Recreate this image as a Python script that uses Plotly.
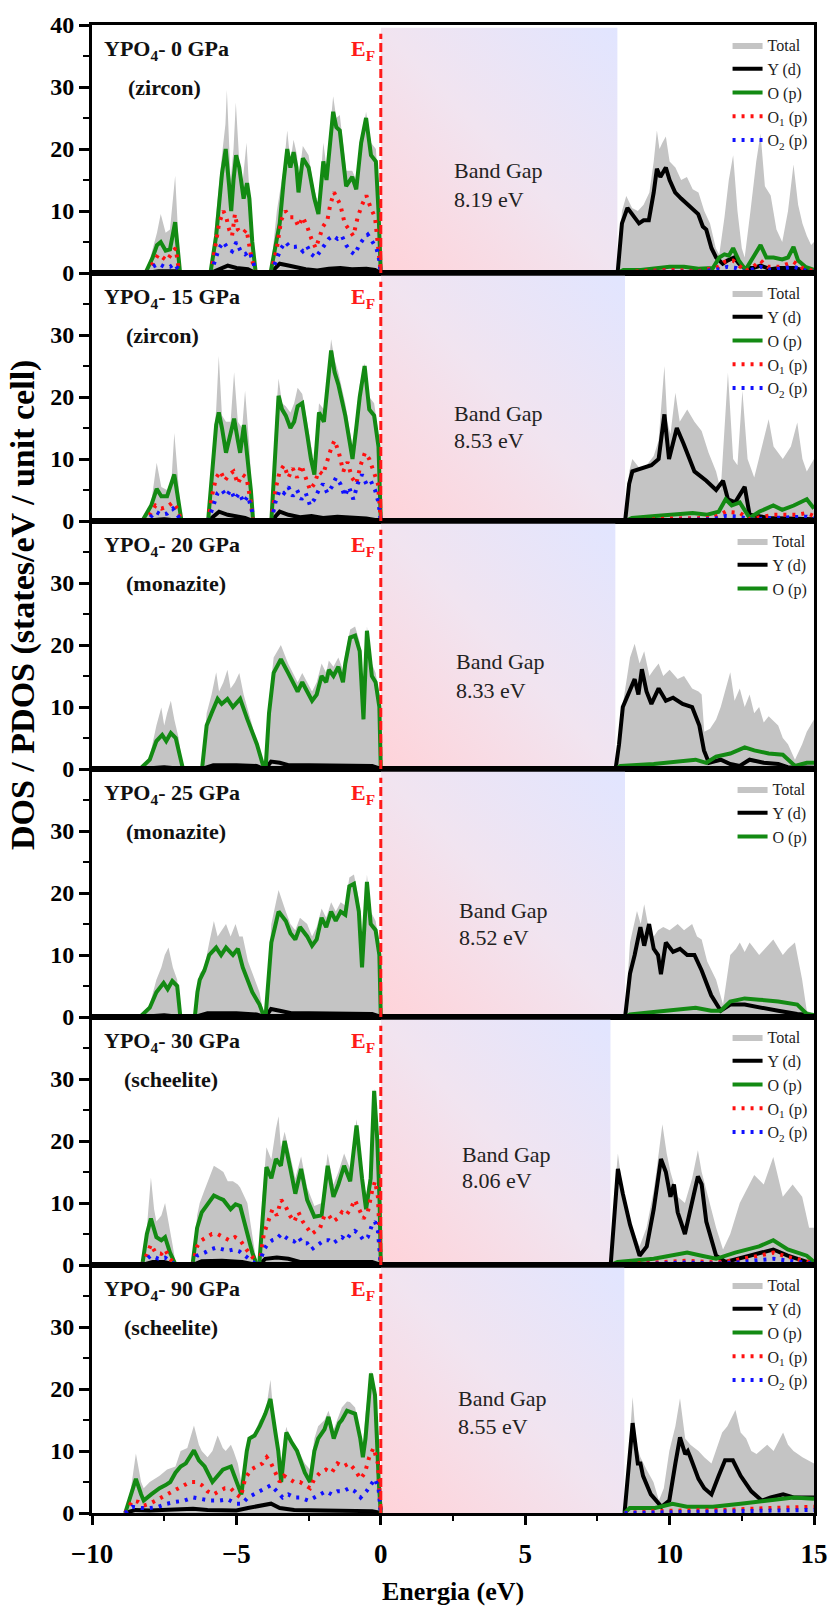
import base64
import plotly.graph_objects as go
from plotly.subplots import make_subplots

# ---------------- data ----------------
PRESSURES = ["0", "15", "20", "25", "30", "90"]
PHASES = ["zircon", "zircon", "monazite", "monazite", "scheelite", "scheelite"]
GAPS = ["8.19", "8.53", "8.33", "8.52", "8.06", "8.55"]
CB_EDGE = [8.2, 8.46, 8.13, 8.46, 7.96, 8.44]
X_TICKS = [-10, -5, 0, 5, 10, 15]
Y_TICKS = [0, 10, 20, 30, 40]

# Panel 1: 0 GPa (zircon)
TOT_1 = [(-8.15,0),(-7.95,3),(-7.75,6.5),(-7.62,9.5),(-7.45,6.5),(-7.3,7),(-7.12,15.7),(-7.0,6),(-6.95,0),
         (-5.9,0),(-5.7,10),(-5.5,19),(-5.38,24),(-5.33,29.5),(-5.2,15),(-5.1,20),(-5.02,27.5),(-4.9,18),(-4.8,14),(-4.65,21),(-4.55,13),(-4.42,6),(-4.32,0),
         (-3.82,0),(-3.6,10),(-3.36,17),(-3.24,23),(-3.13,18),(-3.02,21.5),(-2.9,19),(-2.85,15),(-2.7,20.5),(-2.5,19),(-2.33,14),(-2.16,11),(-1.99,21),(-1.88,17),(-1.65,28.5),(-1.54,25),(-1.42,25.5),(-1.2,16.5),(-0.99,16.5),(-0.85,15),(-0.68,21),(-0.51,26),(-0.34,21),(-0.17,20),(-0.06,12),(0.0,0),
         (8.2,0),(8.35,10),(8.5,12.4),(8.7,10.5),(8.9,10),(9.1,11),(9.3,13),(9.45,18),(9.56,23),(9.65,20),(9.75,21),(9.87,22),(10.0,18),(10.2,17),(10.4,15),(10.6,15.5),(10.8,13.5),(11.0,13),(11.2,10),(11.4,8),(11.6,4),(11.72,3),(11.9,9),(12.05,15),(12.2,19),(12.35,10),(12.5,4),(12.6,2.5),(12.8,10),(13.0,18),(13.15,22.5),(13.3,14),(13.5,12.5),(13.7,7),(13.9,5),(14.1,10),(14.29,17.5),(14.45,11),(14.6,8),(14.75,6),(14.9,4.5),(15.0,5)]
YD_1 = [(-8.15,0),(-7.7,0.3),(-7.0,0.3),(-6.95,0),(-5.9,0),(-5.5,0.8),(-5.3,1.2),(-5.0,0.8),(-4.6,0.6),(-4.33,0),(-3.82,0),(-3.5,1.5),(-3.2,1.2),(-3.0,1.0),(-2.6,0.6),(-2.2,0.4),(-1.8,0.7),(-1.4,0.8),(-1.0,0.6),(-0.5,0.7),(-0.2,0.5),(0.0,0),
        (8.2,0),(8.35,8),(8.54,10.5),(8.71,9.5),(8.94,8),(9.1,8.5),(9.28,8.5),(9.45,13),(9.56,16.8),(9.68,15.5),(9.87,17),(10.0,15),(10.19,13),(10.4,12),(10.64,11),(10.85,10),(10.99,9.5),(11.15,7.5),(11.27,7),(11.45,4),(11.61,2.5),(11.84,1.5),(12.0,2),(12.24,2.5),(12.4,1.5),(12.58,0.8),(12.9,0.8),(13.15,1.2),(13.5,0.6),(13.8,0.8),(14.29,0.8),(14.6,0.5),(15.0,0.3)]
OP_1 = [(-8.15,0),(-7.9,2.5),(-7.75,4.5),(-7.62,5),(-7.45,3.6),(-7.3,3.8),(-7.12,8.2),(-7.0,3),(-6.95,0),
        (-5.9,0),(-5.7,6),(-5.5,16),(-5.37,20),(-5.25,14),(-5.18,10),(-5.1,15),(-5.01,19),(-4.9,17),(-4.75,12),(-4.63,14.5),(-4.55,12),(-4.45,5),(-4.33,0),
        (-3.82,0),(-3.5,8),(-3.36,15),(-3.24,20),(-3.13,17),(-3.02,19.5),(-2.92,17),(-2.85,13),(-2.7,18.5),(-2.5,17),(-2.3,12),(-2.16,9.5),(-1.99,18),(-1.88,15),(-1.65,26),(-1.54,23.5),(-1.42,23),(-1.2,14),(-0.99,15.5),(-0.85,13.5),(-0.68,21),(-0.51,25),(-0.34,19),(-0.17,18),(-0.08,10),(0.0,0),
        (8.2,0),(8.4,0.5),(9.0,0.5),(9.5,0.8),(10.0,1),(10.5,1),(11.0,0.7),(11.5,0.8),(11.72,2.5),(11.9,3),(12.05,2.8),(12.2,4),(12.4,2),(12.63,0.5),(12.9,2.5),(13.15,4.5),(13.35,2.5),(13.6,2.5),(13.9,2.2),(14.1,2.5),(14.29,4.2),(14.45,2),(14.7,1),(15.0,0.5)]
O1_1 = [(-8.1,0),(-7.9,1.5),(-7.7,3),(-7.55,2.5),(-7.4,2),(-7.2,3.5),(-7.1,4),(-6.98,0),
        (-5.88,0),(-5.75,4),(-5.6,8),(-5.45,10),(-5.35,9),(-5.25,7),(-5.15,6),(-5.05,9.5),(-4.95,7),(-4.85,6.5),(-4.75,6.5),(-4.65,7),(-4.5,3),(-4.35,0),
        (-3.8,0),(-3.6,4),(-3.45,8.5),(-3.3,10),(-3.15,9),(-3.0,9),(-2.85,7.5),(-2.7,9),(-2.55,7.5),(-2.4,5.5),(-2.25,4),(-2.1,6),(-2.0,7.5),(-1.85,8.5),(-1.75,11),(-1.62,13),(-1.5,12),(-1.4,11),(-1.25,8),(-1.1,7),(-0.95,6),(-0.8,9),(-0.65,11),(-0.5,12.5),(-0.35,10.5),(-0.2,9),(-0.1,5),(0.0,0),
        (8.2,0),(9.0,0.3),(10.0,0.5),(11.0,0.3),(11.7,1),(11.9,1.8),(12.2,2),(12.45,1),(12.63,0.3),(12.9,1),(13.15,2),(13.4,1),(13.8,1),(14.29,1.8),(14.6,0.8),(15.0,0.3)]
O2_1 = [(-8.1,0),(-7.9,1),(-7.7,1.5),(-7.5,1),(-7.3,1),(-7.15,1.5),(-7.0,0.5),(-6.95,0),
        (-5.88,0),(-5.75,2),(-5.6,4),(-5.45,5),(-5.3,4),(-5.15,3.5),(-5.0,5),(-4.85,3.5),(-4.7,3),(-4.55,3.5),(-4.4,1.5),(-4.33,0),
        (-3.8,0),(-3.6,2.5),(-3.45,4),(-3.3,5),(-3.15,4.2),(-3.0,4.2),(-2.85,4.3),(-2.7,3.5),(-2.55,4.3),(-2.4,3),(-2.25,2.5),(-2.1,3.5),(-1.95,4.5),(-1.8,5.5),(-1.65,6),(-1.5,5.5),(-1.35,6),(-1.2,4.5),(-1.05,3.5),(-0.9,3),(-0.75,4.5),(-0.6,5.5),(-0.45,6.2),(-0.3,5),(-0.15,4),(-0.05,2),(0.0,0),
        (8.2,0),(9.5,0.2),(11.0,0.2),(11.7,0.6),(12.0,1),(12.3,0.8),(12.6,0.2),(13.15,1),(13.5,0.5),(14.29,1),(14.7,0.4),(15.0,0.2)]

# Panel 2: 15 GPa (zircon)
TOT_2 = [(-8.26,0),(-7.95,3),(-7.76,9.4),(-7.6,5.5),(-7.4,5),(-7.25,6.5),(-7.15,14.2),(-7.0,5),(-6.9,0),
         (-5.98,0),(-5.85,10),(-5.7,18),(-5.61,26.6),(-5.5,17),(-5.36,16),(-5.2,16),(-5.08,24),(-4.95,16),(-4.8,15),(-4.7,21),(-4.55,12),(-4.42,0),
         (-3.79,0),(-3.65,16),(-3.54,23),(-3.42,19),(-3.29,18.5),(-3.13,17.5),(-3.0,19),(-2.88,21.5),(-2.72,20.5),(-2.55,16),(-2.42,12),(-2.3,9),(-2.14,19),(-1.97,18),(-1.85,23),(-1.72,29.3),(-1.6,26),(-1.47,24),(-1.23,19),(-1.1,15),(-0.98,12),(-0.85,17),(-0.73,22),(-0.56,25.5),(-0.4,20),(-0.23,19),(-0.08,14),(0.0,0),
         (8.46,0),(8.6,8),(8.71,10),(8.96,8.5),(9.2,9),(9.45,10.5),(9.62,13),(9.82,25),(9.92,16),(10.03,14),(10.2,20.7),(10.35,16),(10.61,18),(10.86,16),(11.11,14.5),(11.35,11),(11.61,8),(11.77,5),(12.02,23.9),(12.2,10),(12.35,9),(12.52,21),(12.7,10),(12.93,7),(13.2,12),(13.43,16.4),(13.6,12),(13.92,10),(14.2,12),(14.42,15.9),(14.6,10),(14.75,8),(15.0,10)]
YD_2 = [(-8.26,0),(-7.5,0.3),(-6.9,0),(-5.98,0),(-5.6,1.5),(-5.3,1),(-5.0,0.8),(-4.7,0.5),(-4.42,0),(-3.79,0),(-3.5,1.5),(-3.2,1),(-2.8,0.6),(-2.4,0.8),(-2.0,0.5),(-1.5,0.7),(-1.0,0.5),(-0.5,0.4),(0.0,0),
        (8.46,0),(8.6,6),(8.71,8),(9.04,8.5),(9.37,9),(9.62,10),(9.82,17.2),(9.98,10),(10.25,15),(10.48,12.5),(10.86,8),(11.27,6.5),(11.61,5),(11.85,6.5),(12.02,3.5),(12.27,3),(12.6,5.5),(12.77,1),(13.43,0.5),(15.0,0.3)]
OP_2 = [(-8.26,0),(-7.95,2.5),(-7.76,5.2),(-7.6,4),(-7.4,4),(-7.15,7.5),(-7.0,3),(-6.9,0),
        (-5.98,0),(-5.85,8),(-5.7,15.5),(-5.61,17.5),(-5.5,15),(-5.36,11),(-5.2,14),(-5.08,16.5),(-4.95,13),(-4.87,11),(-4.74,15.5),(-4.6,10),(-4.5,5),(-4.42,0),
        (-3.79,0),(-3.65,12),(-3.54,20.2),(-3.42,18),(-3.29,17),(-3.13,15),(-3.0,16),(-2.88,18.5),(-2.72,19),(-2.55,14),(-2.42,10),(-2.3,7.5),(-2.14,17.5),(-1.97,16),(-1.85,21),(-1.72,27.5),(-1.6,24),(-1.47,22),(-1.23,17),(-1.1,13),(-0.98,10),(-0.85,15),(-0.73,20),(-0.56,25),(-0.4,18),(-0.23,17),(-0.08,12),(0.0,0),
        (8.46,0),(8.7,0.5),(9.5,0.8),(10.2,1),(10.8,1.3),(11.3,1),(11.7,1.5),(11.94,3.5),(12.15,2.5),(12.43,3),(12.77,0.5),(13.1,1.5),(13.59,2.5),(13.9,1.8),(14.3,2.5),(14.75,3.5),(15.0,2)]
O1_2 = [(-8.26,0),(-8.0,1),(-7.8,2.5),(-7.6,2),(-7.4,2.3),(-7.2,3),(-7.05,2),(-6.9,0),
        (-5.98,0),(-5.85,4),(-5.7,7),(-5.55,8),(-5.4,6.5),(-5.25,7.5),(-5.1,8),(-4.95,6),(-4.8,7.5),(-4.65,7),(-4.5,3),(-4.42,0),
        (-3.79,0),(-3.65,5),(-3.5,8),(-3.35,9),(-3.2,7),(-3.05,8.5),(-2.9,7),(-2.75,9),(-2.6,7),(-2.45,5),(-2.3,6),(-2.15,8),(-2.0,7.5),(-1.85,10),(-1.7,12),(-1.6,13),(-1.45,11),(-1.3,8),(-1.15,9.5),(-1.0,7),(-0.85,6),(-0.7,9),(-0.55,11),(-0.4,10),(-0.25,8),(-0.1,6),(0.0,0),
        (8.46,0),(10.0,0.4),(11.5,0.5),(11.94,1.5),(12.43,1.3),(12.77,0.3),(13.6,1),(14.4,1),(14.75,1.3),(15.0,0.8)]
O2_2 = [(-8.26,0),(-8.0,0.5),(-7.8,1.5),(-7.6,1),(-7.4,1.2),(-7.2,2),(-7.05,1),(-6.9,0),
        (-5.98,0),(-5.8,2.5),(-5.65,4.5),(-5.5,5),(-5.35,4),(-5.2,5),(-5.05,3.5),(-4.9,4.5),(-4.75,3),(-4.6,4),(-4.45,1.5),(-4.42,0),
        (-3.79,0),(-3.65,3),(-3.5,5),(-3.35,4.5),(-3.2,5.5),(-3.05,4),(-2.9,5),(-2.75,3.5),(-2.6,4.5),(-2.45,2.5),(-2.3,3.5),(-2.15,5),(-2.0,6),(-1.85,4.5),(-1.7,5.5),(-1.55,7),(-1.4,6),(-1.25,4),(-1.1,5.5),(-0.95,3.5),(-0.8,6),(-0.65,7.5),(-0.5,6),(-0.35,6.5),(-0.2,5),(-0.08,3),(0.0,0),
        (8.46,0),(10.0,0.2),(11.5,0.3),(11.94,0.8),(12.43,0.7),(12.77,0.2),(13.6,0.5),(14.75,0.7),(15.0,0.4)]

# Panel 3: 20 GPa (monazite)
TOT_3 = [(-8.34,0),(-8.0,2),(-7.77,7),(-7.6,9.9),(-7.5,7),(-7.4,9),(-7.27,11),(-7.15,8),(-7.0,5),(-6.85,0),
         (-6.19,0),(-6.03,9),(-5.86,12),(-5.7,15.6),(-5.6,12.5),(-5.45,14),(-5.31,16),(-5.2,13),(-5.05,14),(-4.9,15.5),(-4.75,12),(-4.62,10),(-4.45,7),(-4.29,4),(-4.04,0),
         (-3.99,0),(-3.87,11),(-3.71,18),(-3.46,20),(-3.21,17),(-3.05,15.5),(-2.88,14),(-2.72,15.5),(-2.55,14),(-2.38,12.5),(-2.22,14),(-2.05,17),(-1.89,15.5),(-1.8,17.5),(-1.64,16.5),(-1.47,18),(-1.31,16),(-1.23,18.5),(-1.06,22.5),(-0.89,23),(-0.73,20.5),(-0.6,12),(-0.48,23),(-0.31,17),(-0.18,15.5),(-0.05,12),(0.0,0),
         (8.13,0),(8.3,8),(8.46,13.2),(8.63,18),(8.79,20.2),(8.96,17),(9.12,19),(9.3,15),(9.45,16),(9.62,17),(9.78,15),(10.0,16),(10.28,14.5),(10.5,15),(10.78,13),(11.0,12.5),(11.11,12),(11.2,6),(11.4,6.5),(11.61,8),(11.77,10),(12.1,15.6),(12.25,11),(12.43,13),(12.6,10),(12.77,12),(12.93,9),(13.1,10),(13.26,7.5),(13.43,8.5),(13.76,7),(13.92,5),(14.1,4),(14.34,1.5),(14.59,4),(14.75,6),(15.0,8)]
YD_3 = [(-8.34,0),(-7.5,0.3),(-6.85,0),(-6.19,0),(-5.8,0.6),(-5.0,0.6),(-4.3,0.5),(-4.04,0),(-3.99,0),(-3.8,1.2),(-3.5,1),(-3.2,0.6),(-2.5,0.6),(-1.8,0.6),(-1.0,0.6),(-0.3,0.5),(0.0,0),
        (8.13,0),(8.25,4),(8.38,10),(8.63,13),(8.79,14.5),(8.92,12),(9.04,16.1),(9.2,12.5),(9.37,10.5),(9.62,13),(9.87,11),(10.12,11.5),(10.45,10.5),(10.78,10),(11.03,7),(11.19,3),(11.36,1),(11.77,1.5),(12.1,0.8),(12.43,0.5),(12.77,1.5),(13.26,1),(13.76,0.8),(14.09,0.3),(15.0,0.2)]
OP_3 = [(-8.34,0),(-8.0,1.5),(-7.77,4.5),(-7.57,5.5),(-7.43,4.5),(-7.27,5.8),(-7.1,5),(-6.95,2),(-6.85,0),
        (-6.19,0),(-6.1,5),(-6.03,7),(-5.86,9),(-5.65,11.3),(-5.51,10.5),(-5.31,11.3),(-5.12,10),(-4.87,11.3),(-4.62,8),(-4.45,6),(-4.29,4),(-4.04,0),
        (-3.99,0),(-3.87,9),(-3.71,15.5),(-3.46,17.7),(-3.21,15.5),(-3.05,14),(-2.88,12.5),(-2.72,14),(-2.55,12.5),(-2.38,11),(-2.22,12),(-2.05,15),(-1.89,14),(-1.8,16),(-1.64,15),(-1.47,16.5),(-1.31,14),(-1.23,17),(-1.06,21.2),(-0.89,21.5),(-0.73,19),(-0.6,8),(-0.48,22.3),(-0.31,15),(-0.18,14),(-0.05,10),(0.0,0),
        (8.13,0),(8.3,0.5),(9.45,0.8),(10.28,1.2),(10.9,1.5),(11.27,1),(11.61,2),(12.1,2.5),(12.6,3.5),(12.93,3),(13.43,2.5),(13.92,2.3),(14.34,0.5),(14.75,1),(15.0,1)]

# Panel 4: 25 GPa (monazite)
TOT_4 = [(-8.34,0),(-8.0,2),(-7.77,6),(-7.6,8),(-7.48,10),(-7.35,11.2),(-7.2,8),(-7.05,6),(-6.94,0),
         (-6.44,0),(-6.27,7),(-6.11,8),(-5.94,12),(-5.78,15.5),(-5.65,13),(-5.5,14),(-5.36,15),(-5.2,13),(-5.03,15),(-4.9,13),(-4.78,13),(-4.6,9),(-4.45,7),(-4.2,4),(-4.04,0),
         (-3.99,0),(-3.79,15),(-3.54,20.5),(-3.29,17),(-3.13,15),(-2.96,14),(-2.8,16),(-2.55,15),(-2.38,13),(-2.22,14.5),(-2.05,17.5),(-1.89,16),(-1.72,18.5),(-1.56,17),(-1.39,18.5),(-1.23,18),(-1.09,22.5),(-0.93,23),(-0.76,19),(-0.65,10),(-0.48,23),(-0.35,17),(-0.18,15.5),(-0.05,12),(0.0,0),
         (8.46,0),(8.63,12),(8.87,17.1),(9.0,15),(9.12,18.2),(9.29,14),(9.45,13),(9.6,14),(9.78,14.5),(10.0,14),(10.28,15),(10.5,14),(10.78,15),(10.95,13),(11.11,12.5),(11.3,9),(11.61,6),(11.85,2),(12.1,10),(12.3,11),(12.43,12),(12.6,10.5),(12.77,12),(13.1,10),(13.3,11),(13.59,12.5),(13.92,10),(14.1,11),(14.34,12),(14.59,6),(14.75,1),(15.0,0.5)]
YD_4 = [(-8.34,0),(-7.5,0.3),(-6.94,0),(-6.44,0),(-6.0,0.6),(-5.0,0.6),(-4.3,0.4),(-4.04,0),(-3.99,0),(-3.8,1.3),(-3.5,1),(-3.1,0.6),(-2.5,0.6),(-1.8,0.6),(-1.0,0.6),(-0.3,0.5),(0.0,0),
        (8.46,0),(8.63,7),(8.79,10),(8.99,14.5),(9.12,11.5),(9.29,15),(9.45,11),(9.6,10),(9.7,6.9),(9.87,12),(10.12,10.5),(10.36,11),(10.61,10),(10.86,10),(11.11,7.5),(11.44,3.5),(11.77,1),(12.1,2),(12.6,2),(13.1,1.5),(13.76,1),(14.42,0.5),(15.0,0.3)]
OP_4 = [(-8.34,0),(-8.0,1.5),(-7.77,4),(-7.52,5.5),(-7.38,4.5),(-7.22,5.8),(-7.05,5),(-6.98,2),(-6.94,0),
        (-6.44,0),(-6.35,4),(-6.27,6),(-6.11,7.5),(-5.94,10),(-5.7,11.2),(-5.53,10),(-5.36,11.2),(-5.12,10),(-4.95,11),(-4.78,8),(-4.45,4),(-4.2,2),(-4.04,0),
        (-3.99,0),(-3.79,12),(-3.54,17),(-3.29,15.5),(-3.13,13.5),(-2.96,12.5),(-2.8,14.5),(-2.55,13),(-2.38,11.5),(-2.22,12.5),(-2.05,16),(-1.89,14.5),(-1.72,17),(-1.56,15.5),(-1.39,17),(-1.23,16.5),(-1.09,21.1),(-0.93,21.5),(-0.76,17),(-0.65,8),(-0.48,21.8),(-0.35,15),(-0.18,14),(-0.05,10),(0.0,0),
        (8.46,0),(8.63,0.4),(9.45,0.8),(10.3,1.2),(10.9,1.5),(11.44,1),(11.77,1),(12.1,2.5),(12.6,3),(13.1,2.8),(13.76,2.5),(14.42,2),(14.75,0.5),(15.0,0.3)]

# Panel 5: 30 GPa (scheelite)
TOT_5 = [(-8.26,0),(-8.1,6),(-7.96,14.1),(-7.85,9),(-7.77,7),(-7.6,8),(-7.47,10),(-7.35,7),(-7.2,3),(-7.1,0),
         (-6.52,0),(-6.36,8),(-6.27,10),(-6.11,12),(-6.03,13),(-5.9,14.5),(-5.78,16),(-5.6,15.5),(-5.45,15),(-5.3,13.5),(-5.12,13.5),(-4.95,13),(-4.87,12.5),(-4.62,10),(-4.45,5),(-4.29,0),
         (-4.21,0),(-4.1,11),(-3.96,19),(-3.79,17),(-3.63,22),(-3.54,24),(-3.46,19),(-3.33,21.5),(-3.13,17.5),(-2.96,14),(-2.76,17.5),(-2.55,12.5),(-2.3,9.5),(-2.05,10),(-1.84,18),(-1.64,13),(-1.47,15),(-1.27,18),(-1.06,15.5),(-0.84,23.5),(-0.65,16),(-0.51,11),(-0.35,16),(-0.23,28.5),(-0.12,22),(-0.04,12),(0.0,0),
         (7.96,0),(8.1,12),(8.21,18),(8.38,12),(8.63,7),(8.79,5),(8.96,3),(9.2,6),(9.45,12),(9.54,15),(9.75,22.7),(9.9,18),(10.03,15),(10.28,11),(10.53,10),(10.78,14),(10.98,18.5),(11.11,15),(11.27,12),(11.61,6),(11.85,2.5),(12.1,5),(12.43,10),(12.77,13),(12.93,14.5),(13.26,13),(13.59,17.4),(13.92,11),(14.26,13),(14.59,11),(14.83,6),(15.0,6)]
YD_5 = [(-8.26,0),(-7.9,0.5),(-7.5,0.5),(-7.1,0),(-6.52,0),(-6.2,0.6),(-5.5,0.7),(-4.8,0.5),(-4.29,0),(-4.21,0),(-4.0,1),(-3.6,1.2),(-3.2,1),(-2.8,0.5),(-2.0,0.5),(-1.0,0.5),(-0.3,0.5),(0.0,0),
        (7.96,0),(8.13,12),(8.21,15.5),(8.38,11.5),(8.63,6.5),(8.96,1.5),(9.21,3),(9.45,9),(9.7,17.1),(9.87,15),(10.03,11),(10.15,13),(10.28,8.5),(10.53,5),(10.78,10),(10.98,14.3),(11.11,13),(11.27,7),(11.61,1.5),(11.94,0.5),(12.77,1.5),(13.26,2),(13.59,2.5),(14.09,1.5),(14.75,0.5),(15.0,0.3)]
OP_5 = [(-8.26,0),(-8.1,5),(-7.96,7.5),(-7.85,5.5),(-7.77,4.5),(-7.6,4),(-7.47,4.5),(-7.3,2),(-7.1,0),
        (-6.52,0),(-6.36,6),(-6.2,8.5),(-6.03,9.5),(-5.78,11.2),(-5.6,10.8),(-5.45,10.5),(-5.2,9),(-5.03,9.8),(-4.87,9.5),(-4.62,5),(-4.45,2),(-4.29,0),
        (-4.21,0),(-4.1,8),(-3.96,15.8),(-3.79,14),(-3.63,17.1),(-3.46,16),(-3.33,20),(-3.13,15.5),(-2.96,11.5),(-2.76,15.5),(-2.55,10.5),(-2.3,7.8),(-2.05,8),(-1.84,16),(-1.64,11),(-1.47,13),(-1.27,16),(-1.06,13.5),(-0.84,22.5),(-0.65,14),(-0.51,9),(-0.35,14),(-0.23,28.1),(-0.12,20),(-0.04,10),(0.0,0),
        (7.96,0),(8.2,0.5),(9.45,1),(10.61,2),(11.11,1.5),(11.61,1),(12.27,2),(13.1,3),(13.59,4),(14.09,2.5),(14.75,1.5),(15.0,0.5)]
O1_5 = [(-8.26,0),(-8.1,2),(-7.96,3.3),(-7.8,2),(-7.6,1.8),(-7.47,2.5),(-7.3,1),(-7.1,0),
        (-6.52,0),(-6.36,3),(-6.2,4),(-6.03,4.5),(-5.85,5),(-5.65,5),(-5.45,4.5),(-5.25,4),(-5.05,4.5),(-4.87,4),(-4.65,2.5),(-4.4,1),(-4.29,0),
        (-4.21,0),(-4.05,5),(-3.9,7),(-3.75,9),(-3.6,8),(-3.45,10.5),(-3.3,9.5),(-3.15,8),(-3.0,7),(-2.85,8.5),(-2.7,7),(-2.55,6),(-2.4,5),(-2.25,5.5),(-2.1,6),(-1.95,8),(-1.8,8),(-1.65,7),(-1.5,7.5),(-1.35,8.5),(-1.2,8),(-1.05,9),(-0.9,10.5),(-0.75,9),(-0.6,7.5),(-0.45,8.5),(-0.3,12),(-0.2,13.5),(-0.1,11),(0.0,0),
        (7.96,0),(9.0,0.3),(10.6,0.7),(11.6,0.4),(12.3,0.8),(13.1,1.5),(13.59,2),(14.1,1.3),(14.75,0.6),(15.0,0.3)]
O2_5 = [(-8.26,0),(-8.1,1),(-7.96,1.5),(-7.7,1),(-7.47,1.2),(-7.3,0.6),(-7.1,0),
        (-6.52,0),(-6.36,1.5),(-6.1,2),(-5.9,2.5),(-5.7,2.8),(-5.5,2.5),(-5.3,2.3),(-5.1,2.5),(-4.9,2.2),(-4.7,1.5),(-4.4,0.5),(-4.29,0),
        (-4.21,0),(-4.05,2.5),(-3.9,3.5),(-3.75,4),(-3.6,4.2),(-3.45,5),(-3.3,4.5),(-3.15,4),(-3.0,3.8),(-2.85,4.5),(-2.7,3.5),(-2.55,3.5),(-2.4,2.5),(-2.25,3),(-2.1,3.5),(-1.95,4),(-1.8,4),(-1.65,3.5),(-1.5,4),(-1.35,4.5),(-1.2,4),(-1.05,5),(-0.9,5.5),(-0.75,5),(-0.6,4),(-0.45,4.5),(-0.3,6.5),(-0.2,7),(-0.1,5.5),(0.0,0),
        (7.96,0),(9.0,0.2),(10.6,0.4),(11.6,0.2),(12.3,0.4),(13.1,0.8),(13.59,1),(14.1,0.7),(14.75,0.3),(15.0,0.2)]

# Panel 6: 90 GPa (scheelite)
TOT_6 = [(-8.85,0),(-8.65,4),(-8.48,9.6),(-8.3,5),(-8.21,4),(-8.0,5),(-7.66,6),(-7.4,7),(-7.11,7.5),(-6.93,10),(-6.7,10.5),(-6.47,14.1),(-6.3,11),(-6.2,10),(-6.0,9),(-5.83,10),(-5.65,12.5),(-5.47,10.5),(-5.37,10),(-5.19,11),(-5.1,10),(-4.95,8),(-4.83,5),(-4.75,4),(-4.64,10),(-4.55,12),(-4.37,13),(-4.19,15),(-4.0,16),(-3.82,21.5),(-3.7,15),(-3.55,11),(-3.45,8),(-3.35,12),(-3.27,13.9),(-3.1,11),(-2.9,10.5),(-2.63,8),(-2.45,7),(-2.3,12),(-2.17,14),(-1.95,15),(-1.81,16.5),(-1.63,13.5),(-1.44,16),(-1.35,17),(-1.17,18),(-1.07,17.9),(-0.89,17),(-0.71,13),(-0.62,11),(-0.53,16),(-0.34,23),(-0.2,20),(-0.07,12),(0.0,0),
         (8.44,0),(8.62,12),(8.72,18.7),(8.85,11),(8.99,9),(9.2,7),(9.44,5),(9.63,2),(9.8,4),(9.99,10),(10.2,14),(10.36,18.5),(10.54,12),(10.72,11),(11.0,10),(11.2,9),(11.45,8),(11.82,13),(12.0,14),(12.28,16.6),(12.46,13),(12.65,12),(12.83,10),(13.01,9.5),(13.38,11),(13.6,10),(13.93,13),(14.1,11),(14.29,10),(14.6,9),(15.0,8)]
YD_6 = [(-8.85,0),(-8.5,0.5),(-8.0,0.4),(-7.0,0.5),(-6.5,0.7),(-6.0,0.5),(-5.0,0.4),(-4.6,0.8),(-4.2,1.2),(-3.8,1.5),(-3.5,0.8),(-3.0,0.5),(-2.0,0.4),(-1.0,0.4),(-0.3,0.3),(0.0,0),
        (8.44,0),(8.62,10),(8.72,14.5),(8.9,8),(8.99,8),(9.08,6),(9.35,3),(9.72,1),(9.99,2),(10.2,8),(10.36,12.2),(10.54,9.5),(10.63,10),(10.72,9),(11.0,5.5),(11.2,4),(11.45,3),(11.7,6),(11.92,8.5),(12.19,8.5),(12.46,6),(12.83,3.5),(13.19,2),(13.5,2.5),(13.93,3),(14.29,2.5),(15.0,2.5)]
OP_6 = [(-8.85,0),(-8.65,3),(-8.48,5.5),(-8.3,3),(-8.21,2),(-7.95,3),(-7.66,4),(-7.45,4.5),(-7.29,5),(-7.11,6.5),(-6.93,7.5),(-6.75,8),(-6.47,10.1),(-6.3,8.5),(-6.1,7.5),(-5.83,5),(-5.65,6),(-5.47,7),(-5.19,7.5),(-5.0,5),(-4.83,3),(-4.64,10),(-4.55,12),(-4.37,12.5),(-4.19,14),(-4.0,16),(-3.82,18.4),(-3.65,13),(-3.55,10),(-3.45,5),(-3.27,13),(-3.1,11.5),(-2.9,10),(-2.63,6.5),(-2.45,5),(-2.3,10),(-2.17,12),(-1.95,13.5),(-1.81,15.5),(-1.63,12),(-1.44,14.5),(-1.35,15),(-1.17,16.5),(-0.89,16),(-0.71,12),(-0.62,9),(-0.53,12),(-0.34,22.5),(-0.2,19),(-0.07,5),(0.0,0),
        (8.44,0),(8.62,0.8),(9.5,0.8),(10.1,1.5),(10.6,1),(11.5,1),(12.46,1.5),(13.38,2),(14.29,2.5),(15.0,2.3)]
O1_6 = [(-8.85,0),(-8.6,2),(-8.4,1.8),(-8.2,1.2),(-8.0,1.5),(-7.8,2),(-7.6,2.5),(-7.4,3),(-7.2,3.5),(-7.0,4),(-6.8,4.5),(-6.6,5),(-6.4,5),(-6.2,4.5),(-6.0,3.5),(-5.8,3),(-5.6,3.5),(-5.4,4),(-5.2,4),(-5.0,3),(-4.85,2.5),(-4.7,5.5),(-4.5,7),(-4.3,7.5),(-4.1,8),(-3.95,9),(-3.8,8),(-3.65,6.5),(-3.5,5),(-3.35,6),(-3.2,5.5),(-3.0,5),(-2.8,5),(-2.6,4.5),(-2.45,4),(-2.3,5.5),(-2.1,6.5),(-1.9,7),(-1.7,6.5),(-1.5,8),(-1.3,7.5),(-1.1,8),(-0.9,7),(-0.7,5.5),(-0.55,6.5),(-0.4,9),(-0.25,10.5),(-0.1,8),(0.0,0),
        (8.44,0),(9.5,0.3),(10.5,0.4),(12.0,0.5),(13.4,0.8),(14.3,1),(15.0,1)]
O2_6 = [(-8.85,0),(-8.6,1),(-8.3,0.8),(-8.0,0.8),(-7.7,1),(-7.4,1.5),(-7.1,1.8),(-6.8,2),(-6.5,2.5),(-6.2,2.2),(-5.9,2),(-5.6,2),(-5.3,2.2),(-5.0,1.5),(-4.8,1.5),(-4.6,2.5),(-4.4,3),(-4.2,3.5),(-4.0,4),(-3.8,4.5),(-3.6,3.5),(-3.4,2.5),(-3.2,3),(-3.0,2.5),(-2.8,2.5),(-2.5,2),(-2.3,2.5),(-2.1,3),(-1.9,3.5),(-1.7,3),(-1.5,3.5),(-1.3,3.5),(-1.1,4),(-0.9,3.5),(-0.7,2.5),(-0.5,3.5),(-0.35,4.5),(-0.2,5.5),(-0.08,4),(0.0,0),
        (8.44,0),(10.5,0.2),(12.0,0.3),(13.4,0.4),(14.3,0.5),(15.0,0.5)]

PANEL_DATA = [
    (TOT_1, YD_1, OP_1, O1_1, O2_1),
    (TOT_2, YD_2, OP_2, O1_2, O2_2),
    (TOT_3, YD_3, OP_3, None, None),
    (TOT_4, YD_4, OP_4, None, None),
    (TOT_5, YD_5, OP_5, O1_5, O2_5),
    (TOT_6, YD_6, OP_6, O1_6, O2_6),
]

# ---------------- layout / style ----------------
SERIF = "Liberation Serif"
NP = 6
W, H = 840, 1607
ML, MR, MT, MB = 92, 15, 25, 94
PHASE_X = [-7.5, -7.55, -7.1, -7.1, -7.25, -7.25]
BG_POS = [(2.45, 16.6, 11.9), (2.45, 17.4, 13.0), (2.55, 17.4, 12.7),
          (2.65, 17.1, 12.9), (2.75, 17.9, 13.6), (2.6, 18.4, 14.0)]
LW = 4.0

fig = make_subplots(rows=NP, cols=1, shared_xaxes=True, vertical_spacing=0)

svg = ("<svg xmlns='http://www.w3.org/2000/svg' width='100' height='100' viewBox='0 0 100 100' "
       "preserveAspectRatio='none'><defs><linearGradient id='g' x1='0' y1='1' x2='1' y2='0'>"
       "<stop offset='0' stop-color='#ffd3d9'/><stop offset='0.5' stop-color='#f1e4f0'/>"
       "<stop offset='1' stop-color='#e1e5ff'/></linearGradient></defs>"
       "<rect width='100' height='100' fill='url(#g)'/></svg>")
svg_uri = "data:image/svg+xml;base64," + base64.b64encode(svg.encode()).decode()


def split(pairs):
    return [p[0] for p in pairs], [p[1] for p in pairs]


def split_lines(pairs):
    # break the curve where it rests on the baseline between bands
    xs, ys = [], []
    for k, (x, y) in enumerate(pairs):
        if k > 0 and y == 0 and pairs[k - 1][1] == 0:
            xs.append(None)
            ys.append(None)
        xs.append(x)
        ys.append(y)
    return xs, ys


images, shapes, annotations = [], [], []
for i in range(NP):
    r = i + 1
    lg = "legend" if r == 1 else f"legend{r}"
    xr = "x" if r == 1 else f"x{r}"
    yr = "y" if r == 1 else f"y{r}"
    tot, yd, op, o1, o2 = PANEL_DATA[i]
    x, y = split(tot)
    fig.add_trace(go.Scatter(x=x, y=y, mode="lines", fill="tozeroy", fillcolor="#c4c4c4",
                             line=dict(width=0, color="#c4c4c4"), name="Total", legend=lg), row=r, col=1)
    x, y = split_lines(yd)
    fig.add_trace(go.Scatter(x=x, y=y, mode="lines", line=dict(width=LW, color="black"),
                             name="Y (d)", legend=lg), row=r, col=1)
    x, y = split_lines(op)
    fig.add_trace(go.Scatter(x=x, y=y, mode="lines", line=dict(width=LW, color="#138a13"),
                             name="O (p)", legend=lg), row=r, col=1)
    if o1 is not None:
        x, y = split_lines(o1)
        fig.add_trace(go.Scatter(x=x, y=y, mode="lines", line=dict(width=LW, color="#ff1010", dash="3px,6px"),
                                 name="O<sub>1</sub> (p)", legend=lg), row=r, col=1)
        x, y = split_lines(o2)
        fig.add_trace(go.Scatter(x=x, y=y, mode="lines", line=dict(width=LW, color="#1010ff", dash="3px,6px"),
                                 name="O<sub>2</sub> (p)", legend=lg), row=r, col=1)

    images.append(dict(source=svg_uri, xref=xr, yref=yr, x=0, y=39.6, sizex=CB_EDGE[i], sizey=39.6,
                       xanchor="left", yanchor="top", sizing="stretch", layer="below"))
    shapes.append(dict(type="line", xref=xr, yref=yr, x0=0, x1=0, y0=0, y1=38.6,
                       line=dict(color="#ff1a1a", width=3, dash="9px,4px"), layer="above"))
    annotations.append(dict(xref=xr, yref=yr, x=-0.12, y=36.0, xanchor="right", yanchor="middle",
                            text="<b>E<sub>F</sub></b>", showarrow=False,
                            font=dict(family=SERIF, size=22, color="#ff1a1a")))
    annotations.append(dict(xref=xr, yref=yr, x=-9.65, y=35.9, xanchor="left", yanchor="middle",
                            text=f"<b>YPO<sub>4</sub>- {PRESSURES[i]} GPa</b>", showarrow=False,
                            font=dict(family=SERIF, size=22, color="#111")))
    annotations.append(dict(xref=xr, yref=yr, x=PHASE_X[i], y=30.0, xanchor="center", yanchor="middle",
                            text=f"<b>({PHASES[i]})</b>", showarrow=False,
                            font=dict(family=SERIF, size=22, color="#111")))
    bx, by1, by2 = BG_POS[i]
    annotations.append(dict(xref=xr, yref=yr, x=bx, y=by1, xanchor="left", yanchor="middle",
                            text="Band Gap", showarrow=False,
                            font=dict(family=SERIF, size=22, color="#222")))
    annotations.append(dict(xref=xr, yref=yr, x=bx, y=by2, xanchor="left", yanchor="middle",
                            text=f"{GAPS[i]} eV", showarrow=False,
                            font=dict(family=SERIF, size=22, color="#222")))

    ytop = 1 - i / NP
    fig.update_layout({lg: dict(x=0.998, xanchor="right", y=ytop - 0.002, yanchor="top",
                                bgcolor="rgba(0,0,0,0)", borderwidth=0, tracegroupgap=0,
                                itemwidth=30, font=dict(family=SERIF, size=16, color="#222"))})

    ticks_y = Y_TICKS if r == 1 else Y_TICKS[:-1]
    fig.update_yaxes(range=[0, 40], tickvals=ticks_y, ticks="outside", ticklen=10, tickwidth=2.5,
                     tickcolor="black", showline=True, mirror=True, linecolor="black", linewidth=3,
                     showgrid=False, zeroline=False,
                     tickfont=dict(family=SERIF, size=24, color="black", weight="bold"),
                     minor=dict(tickvals=[5, 15, 25, 35], ticks="outside", ticklen=6, tickwidth=2,
                                tickcolor="black", showgrid=False),
                     row=r, col=1)
    if r == NP:
        fig.update_xaxes(range=[-10, 15], tickvals=X_TICKS, ticks="outside", ticklen=9, tickwidth=2.5,
                         tickcolor="black", showline=True, mirror=True, linecolor="black", linewidth=3,
                         showgrid=False, zeroline=False, ticklabelstandoff=6,
                         tickfont=dict(family=SERIF, size=27, color="black", weight="bold"),
                         minor=dict(tickvals=[-7.5, -2.5, 2.5, 7.5, 12.5], ticks="outside", ticklen=5,
                                    tickwidth=2, tickcolor="black", showgrid=False),
                         row=r, col=1)
    else:
        fig.update_xaxes(range=[-10, 15], ticks="", showticklabels=False, showline=True, mirror=True,
                         linecolor="black", linewidth=3, showgrid=False, zeroline=False,
                         minor=dict(ticks=""), row=r, col=1)

annotations.append(dict(xref="paper", yref="paper", x=0.5, y=-78 / (H - MT - MB), xanchor="center",
                        yanchor="middle", text="<b>Energia (eV)</b>", showarrow=False,
                        font=dict(family=SERIF, size=26, color="black")))
annotations.append(dict(xref="paper", yref="paper", x=-70 / (W - ML - MR), y=(1513 - 605) / (H - MT - MB),
                        xanchor="center", yanchor="middle", textangle=-90,
                        text="<b>DOS / PDOS (states/eV / unit cell)</b>", showarrow=False,
                        font=dict(family=SERIF, size=34, color="black")))

fig.update_layout(width=W, height=H, margin=dict(l=ML, r=MR, t=MT, b=MB),
                  paper_bgcolor="white", plot_bgcolor="white",
                  images=images, shapes=shapes, annotations=annotations, showlegend=True)

fig.write_html("out.html")
